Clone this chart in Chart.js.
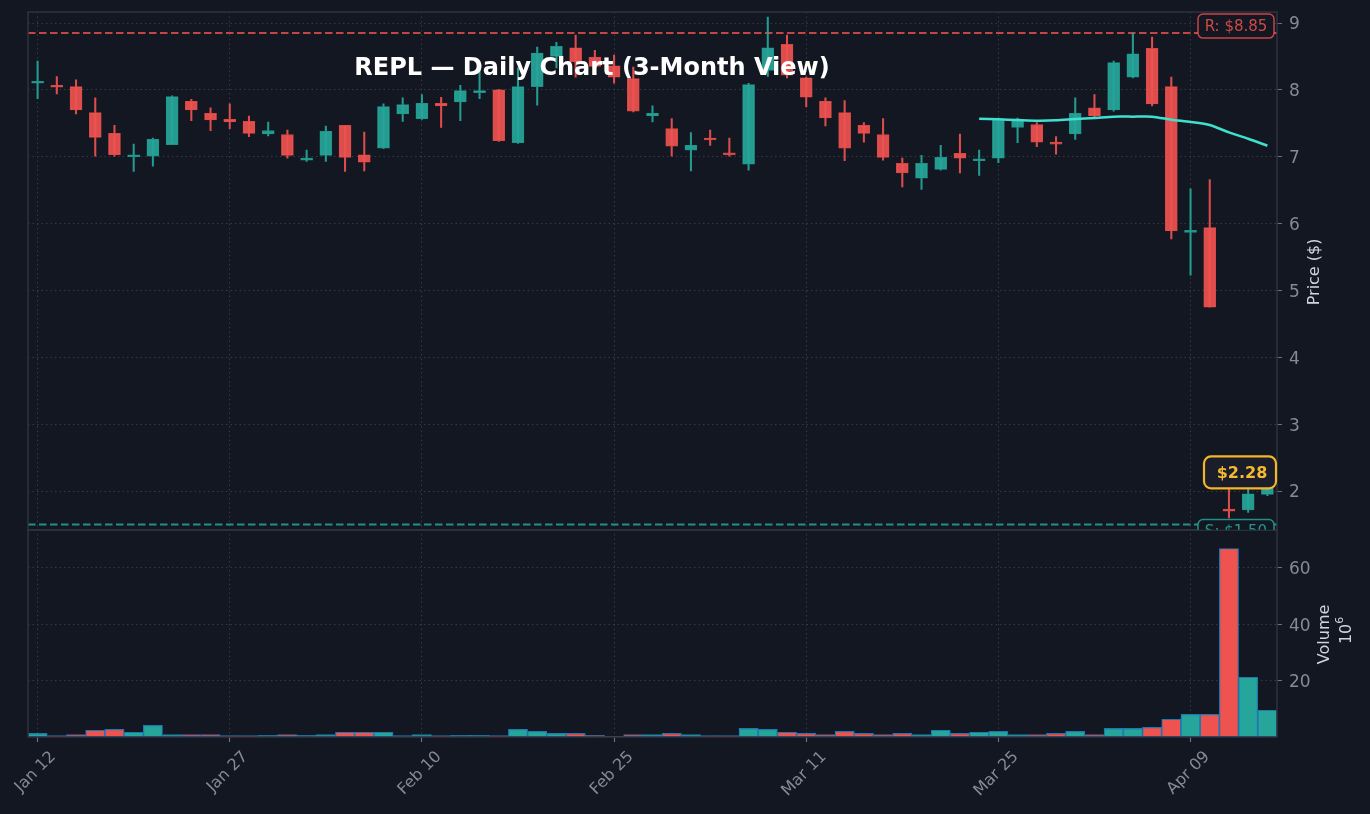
<!DOCTYPE html>
<html>
<head>
<meta charset="utf-8">
<script src="https://cdn.jsdelivr.net/npm/chart.js@4.4.1/dist/chart.umd.min.js"></script>
<style>
  html, body { margin: 0; padding: 0; background: #131722; }
  #chart { display: block; }
</style>
</head>
<body>
<canvas id="chart" width="1370" height="814"></canvas>
<script>
// ===================================
// DATA (trading days, prices in $, volume in millions)
// ===================================
const dates = [
    'Jan 12', 'Jan 13', 'Jan 14', 'Jan 15', 'Jan 16', 'Jan 20', 'Jan 21', 'Jan 22', 'Jan 23', 'Jan 26',
    'Jan 27', 'Jan 28', 'Jan 29', 'Jan 30', 'Feb 02', 'Feb 03', 'Feb 04', 'Feb 05', 'Feb 06', 'Feb 09',
    'Feb 10', 'Feb 11', 'Feb 12', 'Feb 13', 'Feb 17', 'Feb 18', 'Feb 19', 'Feb 20', 'Feb 23', 'Feb 24',
    'Feb 25', 'Feb 26', 'Feb 27', 'Mar 02', 'Mar 03', 'Mar 04', 'Mar 05', 'Mar 06', 'Mar 09', 'Mar 10',
    'Mar 11', 'Mar 12', 'Mar 13', 'Mar 16', 'Mar 17', 'Mar 18', 'Mar 19', 'Mar 20', 'Mar 23', 'Mar 24',
    'Mar 25', 'Mar 26', 'Mar 27', 'Mar 30', 'Mar 31', 'Apr 01', 'Apr 02', 'Apr 06', 'Apr 07', 'Apr 08',
    'Apr 09', 'Apr 10', 'Apr 13', 'Apr 14', 'Apr 15'
];

const opens = [
    8.10, 8.06, 8.05, 7.66, 7.35, 7.00, 7.01, 7.18, 7.83, 7.65,
    7.56, 7.53, 7.34, 7.33, 6.95, 7.02, 7.47, 7.03, 7.13, 7.64,
    7.57, 7.80, 7.82, 7.96, 8.00, 7.21, 8.05, 8.50, 8.63, 8.49,
    8.36, 8.17, 7.61, 7.42, 7.10, 7.27, 7.06, 6.89, 8.29, 8.68,
    8.18, 7.83, 7.66, 7.47, 7.33, 6.90, 6.68, 6.81, 7.05, 6.94,
    6.98, 7.44, 7.48, 7.21, 7.34, 7.73, 7.70, 8.19, 8.62, 8.05,
    5.87, 5.94, 1.72, 1.72, 1.95
];
const highs = [
    8.43, 8.20, 8.15, 7.88, 7.47, 7.19, 7.28, 7.91, 7.86, 7.73,
    7.79, 7.61, 7.52, 7.40, 7.10, 7.46, 7.47, 7.37, 7.79, 7.88,
    7.93, 7.89, 8.07, 8.30, 8.01, 8.33, 8.64, 8.71, 8.82, 8.59,
    8.52, 8.34, 7.76, 7.57, 7.36, 7.40, 7.28, 8.10, 9.09, 8.82,
    8.19, 7.88, 7.84, 7.51, 7.57, 6.98, 7.02, 7.17, 7.34, 7.10,
    7.58, 7.58, 7.51, 7.30, 7.88, 7.93, 8.43, 8.85, 8.79, 8.19,
    6.52, 6.66, 2.28, 2.05, 2.10
];
const lows = [
    7.87, 7.94, 7.64, 7.01, 7.01, 6.78, 6.86, 7.18, 7.54, 7.39,
    7.42, 7.30, 7.31, 6.98, 6.93, 6.93, 6.78, 6.79, 7.12, 7.53,
    7.56, 7.44, 7.54, 7.87, 7.23, 7.20, 7.77, 8.33, 8.19, 8.28,
    8.10, 7.67, 7.52, 7.01, 6.79, 7.17, 7.01, 6.80, 8.20, 8.18,
    7.75, 7.46, 6.94, 7.22, 6.95, 6.55, 6.51, 6.80, 6.76, 6.72,
    6.91, 7.21, 7.15, 7.04, 7.26, 7.60, 7.68, 8.18, 7.76, 5.77,
    5.23, 4.75, 1.60, 1.68, 1.93
];
const closes = [
    8.12, 8.04, 7.70, 7.29, 7.03, 7.02, 7.26, 7.90, 7.70, 7.55,
    7.52, 7.35, 7.39, 7.02, 6.98, 7.38, 6.99, 6.92, 7.75, 7.78,
    7.80, 7.76, 7.99, 7.98, 7.24, 8.05, 8.55, 8.65, 8.42, 8.35,
    8.19, 7.68, 7.65, 7.16, 7.17, 7.25, 7.03, 8.08, 8.63, 8.22,
    7.89, 7.58, 7.13, 7.35, 6.99, 6.76, 6.90, 6.99, 6.98, 6.97,
    7.55, 7.55, 7.22, 7.19, 7.65, 7.61, 8.41, 8.54, 7.79, 5.89,
    5.90, 4.75, 1.70, 1.96, 2.07
];
const volumes = [
    1.3, 0.5, 0.9, 2.4, 2.7, 1.7, 4.1, 0.9, 0.9, 0.9,
    0.5, 0.5, 0.6, 0.9, 0.6, 0.9, 1.7, 1.7, 1.7, 0.5,
    0.9, 0.5, 0.6, 0.6, 0.5, 2.7, 2.0, 1.3, 1.3, 0.6,
    0.2, 0.9, 0.9, 1.3, 0.9, 0.5, 0.5, 3.1, 2.7, 1.7,
    1.3, 0.9, 2.0, 1.3, 0.9, 1.3, 0.9, 2.4, 1.3, 1.7,
    2.0, 0.9, 0.9, 1.3, 2.0, 0.9, 3.1, 3.1, 3.4, 6.3,
    8.0, 8.0, 66.9, 21.2, 9.5
];
// moving average only exists for the last 16 sessions
const maValues = Array(49).fill(null).concat([
    7.57, 7.56, 7.55, 7.54, 7.545, 7.565, 7.58, 7.60, 7.60, 7.60,
    7.555, 7.52, 7.475, 7.365, 7.27, 7.165
]);

const resistance = 8.85;
const support = 1.50;
const lastPrice = 2.28;
const priceTicks = [2, 3, 4, 5, 6, 7, 8, 9];
const volumeTicks = [20, 40, 60];
const labelEvery = 10;

// ===================================
// STYLE
// ===================================
const BG = '#131722';
const UP = '#26a69a';
const DOWN = '#ef5350';
const GRID = '#353946';
const FRAME = '#2f3340';
const TICK_TXT = '#868a95';
const TITLE_TXT = '#d1d4dc';
const FONT = "'DejaVu Sans', sans-serif";

Chart.defaults.font.family = FONT;

const isUp = dates.map((d, i) => closes[i] >= opens[i]);
const candleFill = isUp.map(u => u ? 'rgba(38,166,154,0.92)' : 'rgba(239,83,80,0.92)');
const candleEdge = isUp.map(u => u ? '#1f8f84' : '#cf4744');
const volumeFill = isUp.map(u => u ? UP : DOWN);

// ===================================
// DECORATION PLUGIN
// ===================================
function roundRect(ctx, x, y, w, h, r) {
    ctx.beginPath();
    ctx.moveTo(x + r, y);
    ctx.arcTo(x + w, y, x + w, y + h, r);
    ctx.arcTo(x + w, y + h, x, y + h, r);
    ctx.arcTo(x, y + h, x, y, r);
    ctx.arcTo(x, y, x + w, y, r);
    ctx.closePath();
}

const decor = {
    id: 'decor',
    beforeDraw(chart) {
        const { ctx, width, height } = chart;
        ctx.save();
        ctx.fillStyle = BG;
        ctx.fillRect(0, 0, width, height);
        ctx.restore();
    },
    beforeDatasetsDraw(chart) {
        const { ctx, chartArea: ca, scales } = chart;
        const p = scales.price;
        ctx.save();
        ctx.lineWidth = 2;
        ctx.setLineDash([7.5, 3.5]);
        ctx.strokeStyle = 'rgba(239,83,80,0.8)';
        let y = p.getPixelForValue(resistance);
        ctx.beginPath(); ctx.moveTo(ca.left, y); ctx.lineTo(ca.right, y); ctx.stroke();
        ctx.strokeStyle = 'rgba(38,166,154,0.85)';
        y = p.getPixelForValue(support);
        ctx.beginPath(); ctx.moveTo(ca.left, y); ctx.lineTo(ca.right, y); ctx.stroke();
        ctx.restore();
    },
    afterDatasetsDraw(chart) {
        const { ctx, chartArea: ca, scales } = chart;
        const p = scales.price;
        const v = scales.volume;

        // panel frames
        ctx.save();
        ctx.strokeStyle = FRAME;
        ctx.lineWidth = 1.5;
        ctx.strokeRect(ca.left, p.top, ca.right - ca.left, p.bottom - p.top);
        ctx.strokeRect(ca.left, v.top, ca.right - ca.left, v.bottom - v.top);
        ctx.restore();

        // title
        ctx.save();
        ctx.fillStyle = '#ffffff';
        ctx.font = 'bold 24px ' + FONT;
        ctx.textAlign = 'center';
        ctx.textBaseline = 'middle';
        ctx.fillText('REPL \u2014 Daily Chart (3-Month View)', ca.left + (ca.right - ca.left) * 0.4516, p.top + 57);
        ctx.restore();

        // level boxes, clipped to the price pane
        ctx.save();
        ctx.beginPath();
        ctx.rect(ca.left, p.top, ca.right - ca.left + 10, p.bottom - p.top);
        ctx.clip();
        ctx.font = '15px ' + FONT;
        ctx.textAlign = 'center';
        ctx.textBaseline = 'middle';
        const boxW = 76, boxH = 24;
        const bx = ca.right - boxW - 3;
        let cy = p.getPixelForValue(resistance) - 7;
        roundRect(ctx, bx, cy - boxH / 2, boxW, boxH, 5);
        ctx.fillStyle = BG; ctx.fill();
        ctx.lineWidth = 1.5; ctx.strokeStyle = 'rgba(239,83,80,0.8)'; ctx.stroke();
        ctx.fillStyle = 'rgba(239,83,80,0.85)';
        ctx.fillText('R: $' + resistance.toFixed(2), bx + boxW / 2, cy + 1);
        cy = p.getPixelForValue(support) + 7;
        roundRect(ctx, bx, cy - boxH / 2, boxW, boxH, 5);
        ctx.fillStyle = BG; ctx.fill();
        ctx.strokeStyle = 'rgba(38,166,154,0.85)'; ctx.stroke();
        ctx.fillStyle = 'rgba(38,166,154,0.9)';
        ctx.fillText('S: $' + support.toFixed(2), bx + boxW / 2, cy + 1);
        ctx.restore();

        // last price tag
        ctx.save();
        const lw = 72, lh = 32;
        const lx = ca.right - lw - 1;
        const ly = p.getPixelForValue(lastPrice) - lh / 2;
        roundRect(ctx, lx, ly, lw, lh, 7);
        ctx.fillStyle = '#1b1e2a'; ctx.fill();
        ctx.lineWidth = 2.2; ctx.strokeStyle = '#f4b528'; ctx.stroke();
        ctx.fillStyle = '#f6b930';
        ctx.font = 'bold 16px ' + FONT;
        ctx.textAlign = 'center';
        ctx.textBaseline = 'middle';
        ctx.fillText('$' + lastPrice.toFixed(2), lx + lw / 2 + 2, ly + lh / 2 + 1);
        ctx.restore();
    },
    afterDraw(chart) {
        const { ctx, chartArea: ca, scales } = chart;
        const p = scales.price;
        const v = scales.volume;
        const x = scales.x;

        // x labels, rotated and centred under their ticks
        ctx.save();
        ctx.font = '16px ' + FONT;
        ctx.fillStyle = TICK_TXT;
        ctx.textAlign = 'center';
        ctx.textBaseline = 'middle';
        dates.forEach((d, i) => {
            if (i % labelEvery !== 0) return;
            const w = ctx.measureText(d).width;
            const box = (w + 12) * Math.SQRT1_2;
            ctx.save();
            ctx.translate(x.getPixelForValue(i) - 2, ca.bottom + 13 + box / 2);
            ctx.rotate(-Math.PI / 4);
            ctx.fillText(d, 0, 0);
            ctx.restore();
        });
        ctx.restore();

        // axis titles
        ctx.save();
        ctx.fillStyle = TITLE_TXT;
        ctx.font = '16px ' + FONT;
        ctx.textAlign = 'center';
        ctx.textBaseline = 'middle';
        ctx.save();
        ctx.translate(ca.right + 38, (p.top + p.bottom) / 2 + 1);
        ctx.rotate(-Math.PI / 2);
        ctx.fillText('Price ($)', 0, 0);
        ctx.restore();
        ctx.save();
        ctx.translate(ca.right + 48, (v.top + v.bottom) / 2 + 1);
        ctx.rotate(-Math.PI / 2);
        ctx.fillText('Volume', 0, 0);
        ctx.restore();
        ctx.save();
        ctx.translate(ca.right + 70, (v.top + v.bottom) / 2 - 3);
        ctx.rotate(-Math.PI / 2);
        ctx.textAlign = 'left';
        const w10 = ctx.measureText('10').width;
        ctx.font = '11px ' + FONT;
        const w6 = ctx.measureText('6').width;
        const start = -(w10 + w6) / 2;
        ctx.font = '16px ' + FONT;
        ctx.fillText('10', start, 0);
        ctx.font = '11px ' + FONT;
        ctx.fillText('6', start + w10, -7);
        ctx.restore();
        ctx.restore();
    }
};

// ===================================
// CHART
// ===================================
const ctx = document.getElementById('chart').getContext('2d');

function fixRightAxis(s) {
    s.width = 93;
    s.paddingTop = 0;
    s.paddingBottom = 0;
}

new Chart(ctx, {
    type: 'bar',
    data: {
        labels: dates,
        datasets: [
            {
                type: 'line',
                label: 'MA',
                data: maValues,
                yAxisID: 'price',
                borderColor: '#40e0d0',
                borderWidth: 2.5,
                pointRadius: 0,
                tension: 0.2,
                order: 0
            },
            {
                label: 'Body',
                data: dates.map((d, i) => [opens[i], closes[i]]),
                yAxisID: 'price',
                backgroundColor: candleFill,
                borderColor: candleEdge,
                borderWidth: 0.8,
                borderSkipped: false,
                barThickness: 12,
                minBarLength: 2,
                grouped: false,
                order: 1
            },
            {
                label: 'Wick',
                data: dates.map((d, i) => [lows[i], highs[i]]),
                yAxisID: 'price',
                backgroundColor: candleFill,
                barThickness: 1.4,
                grouped: false,
                order: 2
            },
            {
                label: 'Volume',
                data: volumes,
                yAxisID: 'volume',
                backgroundColor: volumeFill,
                borderColor: '#1f77b4',
                borderWidth: 1.2,
                borderSkipped: false,
                barPercentage: 1,
                categoryPercentage: 1,
                grouped: false,
                order: 3
            }
        ]
    },
    options: {
        responsive: false,
        animation: false,
        devicePixelRatio: 1,
        layout: { padding: { left: 28, top: 12, right: 0, bottom: 0 } },
        plugins: {
            legend: { display: false },
            tooltip: { enabled: false }
        },
        scales: {
            x: {
                type: 'category',
                offset: true,
                grid: {
                    offset: false,
                    color: c => c.index % labelEvery === 0 ? GRID : 'rgba(0,0,0,0)',
                    tickColor: c => c.index % labelEvery === 0 ? '#6b6f7a' : 'rgba(0,0,0,0)',
                    tickLength: 5,
                    tickWidth: 1.2,
                    tickBorderDash: []
                },
                border: { display: false, dash: [1.5, 3] },
                ticks: { display: false, autoSkip: false },
                afterFit: s => { s.height = 77; s.paddingLeft = 0; s.paddingRight = 0; }
            },
            price: {
                type: 'linear',
                position: 'right',
                stack: 'panes',
                stackWeight: 2.5,
                min: 1.42,
                max: 9.165,
                afterBuildTicks: s => { s.ticks = priceTicks.map(t => ({ value: t })); },
                grid: { color: GRID, tickColor: '#6b6f7a', tickLength: 5, tickBorderDash: [] },
                border: { display: false, dash: [1.5, 3] },
                ticks: { color: TICK_TXT, font: { size: 17 }, padding: 7, labelOffset: 2 },
                afterFit: fixRightAxis
            },
            volume: {
                type: 'linear',
                position: 'right',
                stack: 'panes',
                stackWeight: 1,
                min: 0,
                max: 73.5,
                afterBuildTicks: s => { s.ticks = volumeTicks.map(t => ({ value: t })); },
                grid: { color: GRID, tickColor: '#6b6f7a', tickLength: 5, tickBorderDash: [] },
                border: { display: false, dash: [1.5, 3] },
                ticks: { color: TICK_TXT, font: { size: 17 }, padding: 7, labelOffset: 2 },
                afterFit: fixRightAxis
            }
        }
    },
    plugins: [decor]
});
</script>
</body>
</html>
